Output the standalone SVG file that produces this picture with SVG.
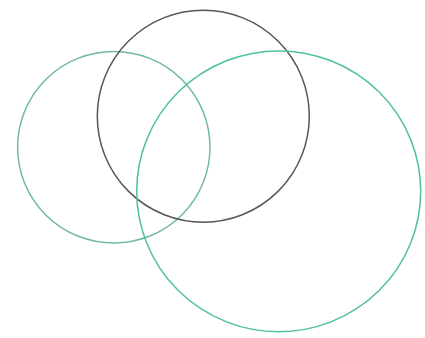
<svg xmlns="http://www.w3.org/2000/svg" width="425" height="338" viewBox="0 0 425 338">
<style>
.c{fill:none;stroke-width:1.5}
</style>
<rect width="425" height="338" fill="#ffffff"/>
<g id="circle-left"><ellipse class="c" cx="113.8" cy="147.2" rx="96.2" ry="95.8" stroke="#6fb8a8"/></g>
<g id="circle-top"><ellipse class="c" cx="203.3" cy="116.2" rx="106" ry="106" stroke="#5a5652"/></g>
<g id="circle-right"><ellipse class="c" cx="278.7" cy="191.3" rx="142" ry="140.4" stroke="#4fc0a0"/></g>
<g id="connectors"></g>
</svg>
